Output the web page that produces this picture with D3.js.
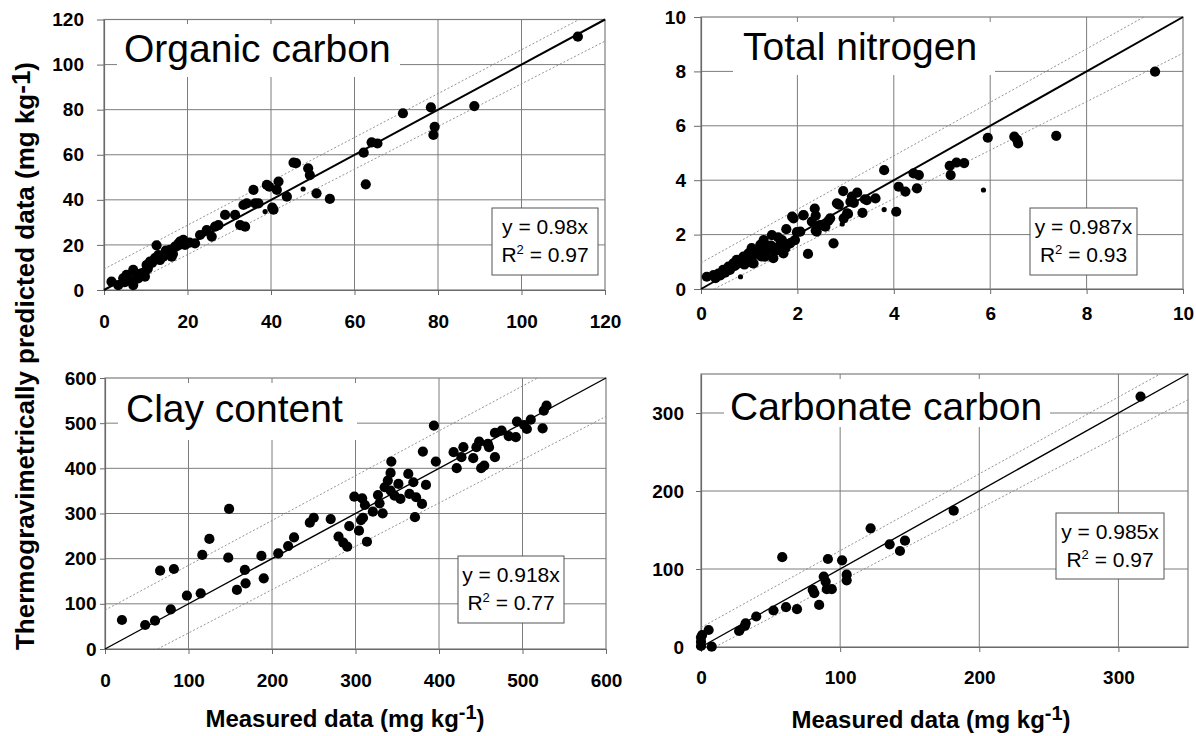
<!DOCTYPE html>
<html><head><meta charset="utf-8">
<script src="https://cdn.jsdelivr.net/npm/d3@7"></script>
<style>body{margin:0;background:#fff}</style>
</head><body>
<svg id="c" width="1196" height="736"></svg>
<script>
// ---------- DATA ----------
const ocTitle = "Organic carbon";
const ocTicks = [0, 20, 40, 60, 80, 100, 120];
const ocMax = 120;
const ocEq = "y = 0.98x";
const ocR2 = "0.97";
const ocPoints = [
  [1.8,3.7],[3.4,2.2],[4.6,5.2],[5.0,3.5],[5.4,6.7],[6.2,4.5],[7.0,8.9],[7.0,2.2],[8.0,7.0],[8.2,5.2],
  [9.0,7.4],[9.8,5.9],[9.8,8.0],[10.2,11.1],[10.5,9.5],[11.0,12.6],[11.5,12.0],[12.2,14.1],[12.6,19.8],
  [13.0,15.5],[13.4,13.3],[14.2,14.8],[14.8,17.5],[15.0,16.3],[15.8,17.8],[16.2,14.8],[16.5,16.0],
  [17.0,19.3],[17.8,20.5],[18.2,21.5],[19.0,22.2],[19.4,20.0],[20.5,21.0],[21.8,20.7],[23.0,24.4],
  [24.6,26.6],[25.8,23.7],[26.6,28.1],[27.4,28.8],[29.0,33.3],[31.4,33.3],[32.6,28.8],[33.8,28.1],
  [33.4,37.7],[34.2,38.4],[35.8,44.4],[36.2,38.4],[37.0,38.4],[39.0,46.6],[39.6,45.8],[40.3,36.5],
  [40.6,35.6],[41.4,44.4],[41.8,48.1],[43.8,41.4],[45.4,56.5],[46.0,56.3],[48.9,54.0],[49.3,51.0],
  [50.9,42.9],[54.1,40.4],[62.2,60.9],[62.7,46.9],[64.1,65.5],[65.5,65.0],[71.6,78.4],[78.3,81.0],
  [79.2,72.4],[78.9,68.8],[88.7,81.6],[113.5,112.4]
];
const ocSmall = [[38.6,34.8],[47.7,44.8]];
const ocUpper = [[0,9.3],[113.8,120]];
const ocLower = [[3.4,0],[120,110.4]];

const tnTitle = "Total nitrogen";
const tnTicks = [0, 2, 4, 6, 8, 10];
const tnMax = 10;
const tnEq = "y = 0.987x";
const tnR2 = "0.93";
const tnPoints = [
  [0.12,0.45],[0.26,0.51],[0.3,0.4],[0.36,0.57],[0.4,0.5],[0.46,0.70],[0.5,0.6],[0.57,0.82],[0.6,0.7],
  [0.67,0.94],[0.7,0.85],[0.74,1.07],[0.8,1.0],[0.88,1.19],[0.9,0.9],[0.98,1.25],[0.98,1.3],[1.0,1.1],
  [1.05,1.50],[1.07,0.95],[1.09,0.94],[1.1,1.3],[1.16,1.31],[1.2,1.4],[1.23,1.62],[1.25,1.2],[1.30,1.80],
  [1.33,1.19],[1.35,1.5],[1.40,1.43],[1.45,1.6],[1.47,1.98],[1.50,1.13],[1.55,1.4],[1.6,1.9],[1.61,1.56],
  [1.68,1.80],[1.71,1.31],[1.75,1.5],[1.77,2.2],[1.85,1.68],[1.89,2.66],[1.92,2.60],[1.95,1.80],
  [1.99,2.09],[2.06,2.11],[2.12,2.71],[2.13,2.72],[2.22,1.29],[2.30,2.48],[2.36,2.96],[2.38,2.7],
  [2.38,2.15],[2.40,2.11],[2.47,2.35],[2.58,2.29],[2.64,2.5],[2.68,2.60],[2.75,1.68],[2.82,3.15],
  [2.86,3.1],[2.95,3.6],[2.96,2.60],[3.03,2.78],[3.05,2.76],[3.10,3.21],[3.13,3.4],[3.17,3.17],
  [3.24,3.54],[3.35,2.80],[3.40,3.3],[3.44,3.27],[3.62,3.33],[3.80,4.37],[4.05,2.84],[4.10,3.76],
  [4.24,3.58],[4.41,4.25],[4.48,3.70],[4.52,4.19],[5.16,4.53],[5.18,4.19],[5.30,4.65],[5.46,4.63],
  [5.95,5.56],[6.50,5.60],[6.56,5.48],[6.58,5.35],[7.37,5.63],[9.42,7.99]
];
const tnSmall = [[0.82,0.45],[2.93,2.39],[3.80,2.92],[5.86,3.64]];
const tnUpper = [[0,0.96],[9.19,10]];
const tnLower = [[0.27,0],[10,8.67]];

const ccTitle = "Clay content";
const ccTicks = [0, 100, 200, 300, 400, 500, 600];
const ccMax = 600;
const ccEq = "y = 0.918x";
const ccR2 = "0.77";
const ccPoints = [
  [20.3,64.2],[48.1,53.1],[59.9,62.7],[66.0,173.4],[78.8,87.8],[82.5,177.1],[98.1,118.1],[114.6,123.3],
  [116.5,208.2],[125.0,243.6],[147.6,202.3],[148.6,310.1],[158.0,130.7],[167.5,175.0],[168.4,145.5],
  [187.3,206.0],[190.1,156.5],[207.5,211.7],[219.3,228.0],[226.4,247.1],[245.3,279.6],[250.0,290.6],
  [270.3,287.7],[279.7,248.6],[285.4,235.3],[290.1,226.5],[292.5,272.2],[298.6,337.2],[304.2,261.9],
  [306.6,285.5],[309.0,290.6],[313.7,237.5],[308.0,333.4],[311.3,318.8],[320.8,304.0],[326.9,340.9],
  [328.8,322.5],[332.5,300.4],[334.9,358.1],[338.7,372.9],[342.0,389.9],[342.9,415.0],[342.0,350.7],
  [346.7,339.6],[351.4,365.4],[353.8,332.2],[363.2,387.6],[364.6,343.4],[369.3,369.2],[371.2,291.8],
  [372.6,336.0],[379.7,321.3],[384.4,363.3],[380.7,437.1],[393.9,494.7],[396.2,415.0],[417.5,435.7],
  [421.2,400.3],[426.9,424.6],[429.2,446.8],[441.0,422.4],[444.8,446.8],[448.1,459.3],[450.5,400.3],
  [454.2,406.2],[458.5,454.1],[459.9,446.8],[467.0,424.6],[467.0,478.4],[475.0,483.6],[483.5,471.1],
  [492.0,468.9],[493.4,503.3],[501.9,495.9],[505.2,487.1],[509.9,507.7],[524.1,488.6],[525.5,527.7],
  [528.8,538.7]
];
const ccSmall = [];
const ccUpper = [[0,86],[518,600]];
const ccLower = [[63,0],[600,515]];

const caTitle = "Carbonate carbon";
const caTicks = [0, 100, 200, 300];
const caMax = 350;
const caEq = "y = 0.985x";
const caR2 = "0.97";
const caPoints = [
  [0,1.3],[0,6.8],[0,12.4],[0.8,15.4],[7.7,0.4],[5.5,21.8],[27.4,20.5],[31.5,26.9],[32.1,30.3],
  [39.7,39.1],[52.1,46.8],[61.1,51.1],[58.4,115.1],[69.0,48.5],[80.3,73.2],[81.4,69.0],[84.9,54.0],
  [88.2,90.3],[89.6,83.8],[91.2,112.8],[90.4,74.1],[94.0,74.1],[101.4,111.1],[104.7,92.7],[104.7,85.5],
  [121.9,152.1],[135.6,131.6],[143.0,123.1],[146.6,136.3],[181.6,174.8],[315.9,321.0]
];
const caSmall = [];
const caUpper = [[0,25],[330,350]];
const caLower = [[10,0],[350,317]];

const yAxisLabel = "Thermogravimetrically predicted data (mg kg";
const xAxisLabel = "Measured data (mg kg";

// ---------- LAYOUT ----------
const panels = [
  {title: ocTitle, ticks: ocTicks, max: ocMax, eq: ocEq, r2: ocR2, pts: ocPoints, small: ocSmall, upper: ocUpper, lower: ocLower,
   L: {x0:104, x1:605, y0:19.5, y1:290, ySpace:20, xSpace:24.5, tickY:7, lineW:2,
       tx:124, ty:62, tr:[117,24,283,53], box:[492,208,106,67]}},
  {title: tnTitle, ticks: tnTicks, max: tnMax, eq: tnEq, r2: tnR2, pts: tnPoints, small: tnSmall, upper: tnUpper, lower: tnLower,
   L: {x0:701, x1:1183, y0:17, y1:289, ySpace:15, xSpace:17.5, tickY:7, lineW:2,
       tx:743, ty:60, tr:[733,22,262,53], box:[1030,208,107,67]}},
  {title: ccTitle, ticks: ccTicks, max: ccMax, eq: ccEq, r2: ccR2, pts: ccPoints, small: ccSmall, upper: ccUpper, lower: ccLower,
   L: {x0:105, x1:606, y0:378, y1:649, ySpace:8.5, xSpace:24.5, tickY:5, lineW:1.4,
       tx:126, ty:422, tr:[118,383,239,57], box:[458,556,106,67]}},
  {title: caTitle, ticks: caTicks, max: caMax, eq: caEq, r2: caR2, pts: caPoints, small: caSmall, upper: caUpper, lower: caLower,
   L: {x0:701, x1:1188, y0:374, y1:647, ySpace:17, xSpace:23.5, tickY:5, lineW:1.4,
       tx:730, ty:420, tr:[724,379,326,48], box:[1056,513,108,66]}}
];

const FONT = "'Liberation Sans', Arial, Helvetica, sans-serif";
const GRID = "#7d7d7d";
const svg = d3.select("#c");

panels.forEach(p => {
  const L = p.L;
  const x = d3.scaleLinear().domain([0, p.max]).range([L.x0, L.x1]);
  const y = d3.scaleLinear().domain([0, p.max]).range([L.y1, L.y0]);
  const g = svg.append("g");
  const inner = p.ticks.filter(t => t > 0 && t < p.max);

  g.selectAll(".gx").data(inner).enter().append("line")
    .attr("x1", d => x(d)).attr("x2", d => x(d)).attr("y1", L.y0).attr("y2", L.y1)
    .attr("stroke", GRID).attr("stroke-width", 1);
  g.selectAll(".gy").data(inner).enter().append("line")
    .attr("y1", d => y(d)).attr("y2", d => y(d)).attr("x1", L.x0).attr("x2", L.x1)
    .attr("stroke", GRID).attr("stroke-width", 1);

  g.append("rect").attr("x", L.x0).attr("y", L.y0)
    .attr("width", L.x1 - L.x0).attr("height", L.y1 - L.y0)
    .attr("fill", "none").attr("stroke", GRID).attr("stroke-width", 1.2);

  // axes
  const ya = d3.axisLeft(y).tickValues(p.ticks).tickSizeInner(L.tickY).tickSizeOuter(0)
    .tickPadding(L.ySpace - L.tickY).tickFormat(d3.format("d"));
  const yg = g.append("g").attr("transform", `translate(${L.x0},0)`).call(ya);
  const xa = d3.axisBottom(x).tickValues(p.ticks).tickSizeInner(5).tickSizeOuter(0)
    .tickPadding(L.xSpace - 5).tickFormat(d3.format("d"));
  const xg = g.append("g").attr("transform", `translate(0,${L.y1})`).call(xa);
  [yg, xg].forEach(a => {
    a.select(".domain").attr("stroke", "#6a6a6a").attr("stroke-width", 1.2);
    a.selectAll(".tick line").attr("stroke", "#6a6a6a");
    a.selectAll(".tick text").attr("font-family", FONT).attr("font-size", 19)
      .attr("font-weight", "bold").attr("fill", "#000");
  });

  // title with white background
  g.append("rect").attr("x", L.tr[0]).attr("y", L.tr[1]).attr("width", L.tr[2]).attr("height", L.tr[3])
    .attr("fill", "#fff");
  g.append("text").attr("x", L.tx).attr("y", L.ty).text(p.title)
    .attr("font-family", FONT).attr("font-size", 39).attr("fill", "#000");

  // bands and 1:1 line
  const line = d3.line().x(d => x(d[0])).y(d => y(d[1]));
  [p.upper, p.lower].forEach(b => {
    g.append("path").attr("d", line(b)).attr("fill", "none")
      .attr("stroke", "#888").attr("stroke-width", 0.9).attr("stroke-dasharray", "2,2");
  });
  g.append("path").attr("d", line([[0, 0], [p.max, p.max]])).attr("fill", "none")
    .attr("stroke", "#000").attr("stroke-width", L.lineW);

  // points
  g.selectAll(".pt").data(p.pts).enter().append("circle")
    .attr("cx", d => x(d[0])).attr("cy", d => y(d[1])).attr("r", 5.1).attr("fill", "#000");
  g.selectAll(".sp").data(p.small).enter().append("circle")
    .attr("cx", d => x(d[0])).attr("cy", d => y(d[1])).attr("r", 2.6).attr("fill", "#000");

  // equation box
  const b = L.box;
  g.append("rect").attr("x", b[0]).attr("y", b[1]).attr("width", b[2]).attr("height", b[3])
    .attr("fill", "#fff").attr("stroke", "#555").attr("stroke-width", 1);
  const cx = b[0] + b[2] / 2;
  g.append("text").attr("x", cx).attr("y", b[1] + 26).attr("text-anchor", "middle")
    .attr("font-family", FONT).attr("font-size", 21).text(p.eq);
  const t2 = g.append("text").attr("x", cx).attr("y", b[1] + 54).attr("text-anchor", "middle")
    .attr("font-family", FONT).attr("font-size", 21);
  t2.append("tspan").text("R");
  t2.append("tspan").attr("dy", -8).attr("font-size", 13).text("2");
  t2.append("tspan").attr("dy", 8).text(" = " + p.r2);
});

// y axis label
const yl = svg.append("text").attr("transform", "translate(34,356) rotate(-90)")
  .attr("text-anchor", "middle").attr("font-family", FONT).attr("font-size", 26)
  .attr("font-weight", "bold");
yl.append("tspan").text(yAxisLabel);
yl.append("tspan").attr("dy", -4).text("-1");
yl.append("tspan").attr("dy", 4).text(")");

// x axis labels
[[345, 727], [931, 728]].forEach(([cx, by]) => {
  const t = svg.append("text").attr("x", cx).attr("y", by).attr("text-anchor", "middle")
    .attr("font-family", FONT).attr("font-size", 24).attr("font-weight", "bold");
  t.append("tspan").text(xAxisLabel);
  t.append("tspan").attr("dy", -8).attr("font-size", 20).text("-1");
  t.append("tspan").attr("dy", 8).text(")");
});
</script>
</body></html>
